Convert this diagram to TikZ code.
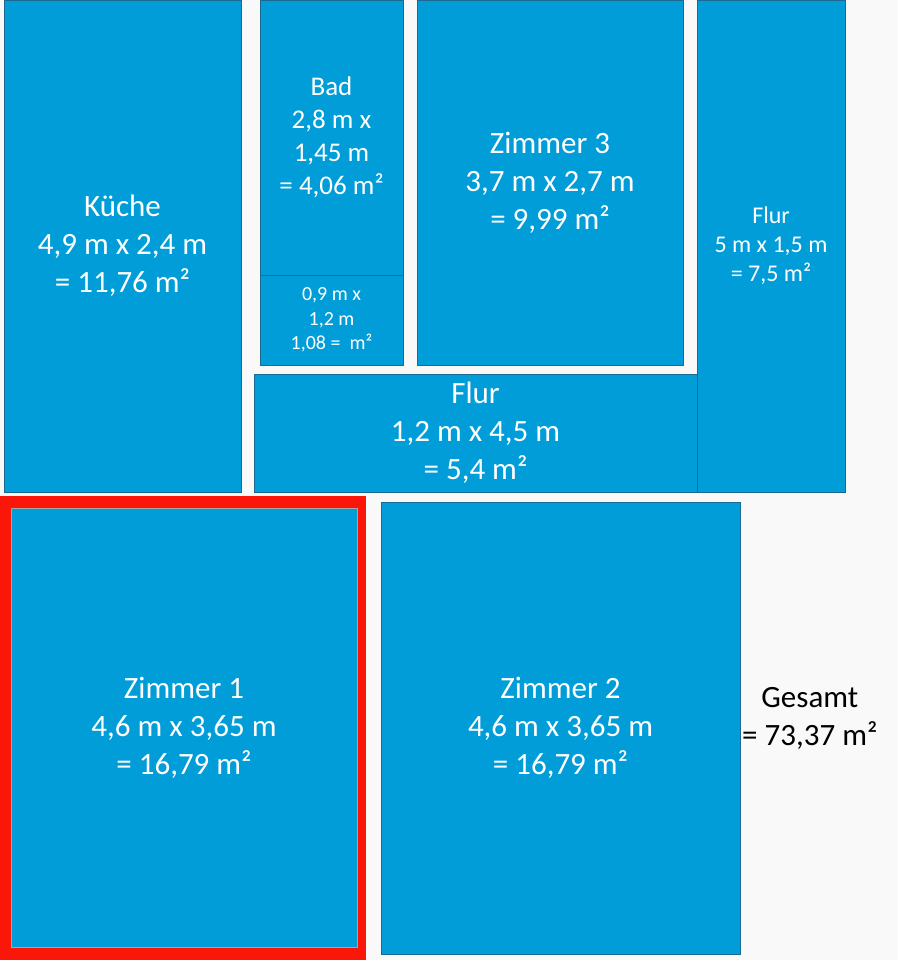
\documentclass[tikz,border=0pt]{standalone}
\usepackage{fontspec}
\setmainfont{Carlito}
\usetikzlibrary{positioning}
\definecolor{roomblue}{RGB}{0,157,216}
\definecolor{roomedge}{RGB}{28,105,145}
\definecolor{paper}{RGB}{249,249,249}
\definecolor{markred}{RGB}{250,22,8}
\tikzset{
  room/.style={draw=roomedge, fill=roomblue, line width=0.8pt, anchor=north west,
    inner sep=0pt, outer sep=0pt, align=center, text=white,
    font=\fontsize{31}{38}\selectfont},
  midroom/.style={room, font=\fontsize{27}{33}\selectfont},
  smallroom/.style={room, font=\fontsize{20}{24.5}\selectfont},
  narrowroom/.style={room, font=\fontsize{24}{29}\selectfont},
}
\begin{document}
\begin{tikzpicture}[x=1pt,y=-1pt]
   \fill[paper] (0,0) rectangle (898,960);
   \useasboundingbox (0,0) rectangle (898,960);
   \node[room, minimum width=237pt, minimum height=492pt] (kueche) at (4,0) {Küche\\4,9 m x 2,4 m\\= 11,76 m²};
   \node[midroom, minimum width=143pt, minimum height=275pt] (bad) at (260,0) {Bad\\2,8 m x\\1,45 m\\= 4,06 m²};
   \node[smallroom, minimum width=143pt, minimum height=90pt] (nische) at (260,275) {0,9 m x\\1,2 m\\1,08 =~ m²};
   \node[room, minimum width=266pt, minimum height=365pt] (zimmer3) at (417,0) {Zimmer 3\\3,7 m x 2,7 m\\= 9,99 m²};
   \node[narrowroom, minimum width=148pt, minimum height=492pt] (flurA) at (697,0) {Flur\\5 m x 1,5 m\\= 7,5 m²};
   \node[room, minimum width=443pt, minimum height=118pt] (flurB) at (254,374) {Flur\\1,2 m x 4,5 m\\= 5,4 m²};
   \node[anchor=north west, fill=markred, inner sep=0pt, outer sep=0pt, minimum width=366pt, minimum height=464pt] (rahmen) at (0,496) {};
   \node[room, draw=gray!70, minimum width=346pt, minimum height=439pt] (zimmer1) at (11,508) {Zimmer 1\\4,6 m x 3,65 m\\= 16,79 m²};
   \node[room, minimum width=359pt, minimum height=452pt] (zimmer2) at (381,502) {Zimmer 2\\4,6 m x 3,65 m\\= 16,79 m²};
   \node[align=center, inner sep=0pt, yshift=10pt, font=\fontsize{31}{38}\selectfont] (gesamt) [right=2pt of zimmer2] {Gesamt\\= 73,37 m²};
\end{tikzpicture}
\end{document}
